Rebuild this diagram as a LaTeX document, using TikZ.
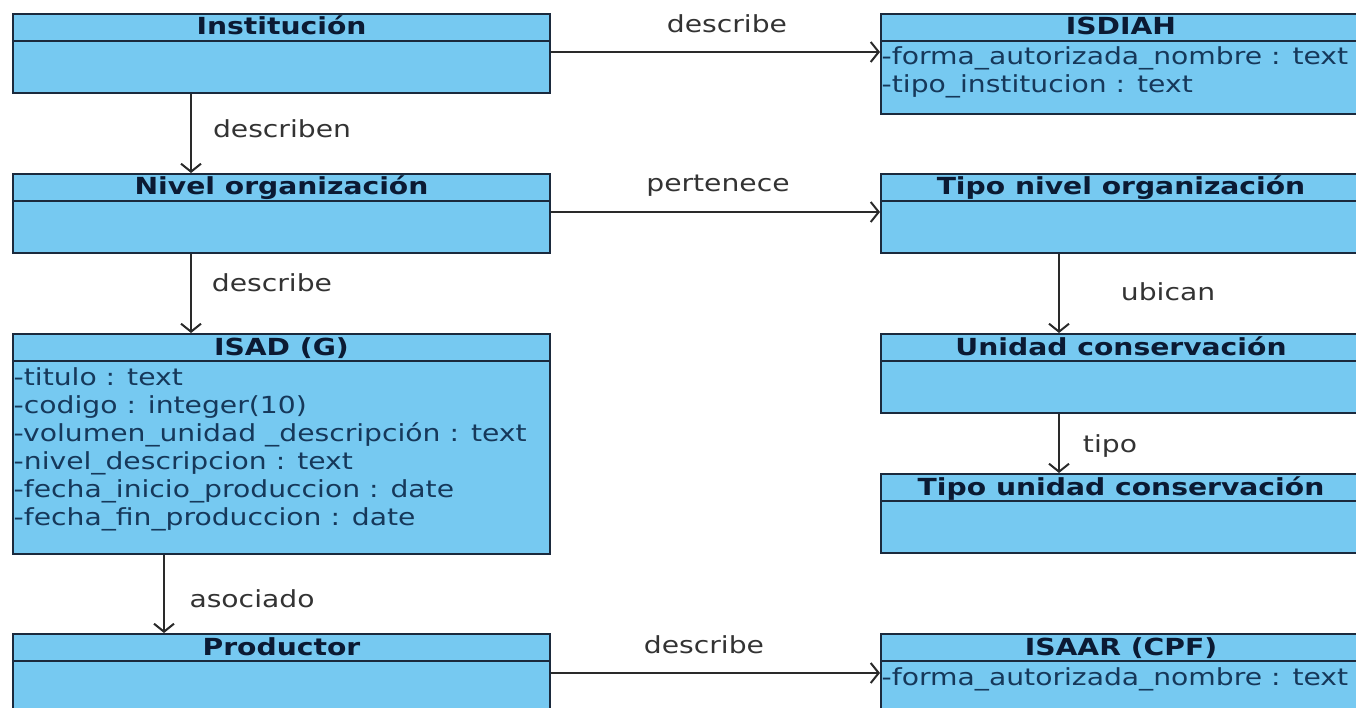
\documentclass[tikz,border=0pt]{standalone}
\usepackage{fontspec}
\setmainfont{DejaVu Sans}[FakeStretch=1.2]
\usetikzlibrary{arrows.meta,calc}

\definecolor{boxfill}{HTML}{76C9F1}
\definecolor{boxline}{HTML}{1B2A3D}
\definecolor{titletext}{HTML}{0B1A33}
\definecolor{attrtext}{HTML}{16385A}
\definecolor{wire}{HTML}{2A2A2A}
\definecolor{labeltext}{HTML}{333333}

\newcommand{\umlsize}{\fontsize{23.5}{28}\selectfont}

\tikzset{
  umlclass/.style 2 args={rectangle, draw=boxline, fill=boxfill, line width=2pt,
    anchor=north west, inner sep=0pt, minimum width=#1pt, minimum height=#2pt},
  classtitle/.style={anchor=base, inner sep=0pt, text=titletext, font=\umlsize\bfseries},
  attr/.style={anchor=base west, inner sep=0pt, text=attrtext, font=\umlsize},
  divider/.style={draw=boxline, line width=2pt},
  assoc/.style={draw=wire, line width=2pt, -{Straight Barb[length=8pt,width=20pt]}},
  lbl/.style={anchor=base, inner sep=0pt, text=labeltext, font=\umlsize},
}

\begin{document}
\begin{tikzpicture}[x=1pt,y=-1pt]
  \useasboundingbox (0,0) rectangle (1356,708);
  \clip (0,0) rectangle (1356,708);

  % class boxes, left column
  \node[umlclass={537}{79}]  (inst) at (12,13) {};
  \node[umlclass={537}{79}]  (niv)  at (12,173) {};
  \node[umlclass={537}{220}] (isad) at (12,333) {};
  \node[umlclass={537}{80}]  (prod) at (12,633) {};

  % class boxes, right column
  \node[umlclass={480}{100}] (isdiah) at (880,13) {};
  \node[umlclass={480}{79}]  (tno)    at (880,173) {};
  \node[umlclass={480}{79}]  (uc)     at (880,333) {};
  \node[umlclass={480}{79}]  (tuc)    at (880,473) {};
  \node[umlclass={480}{80}]  (isaar)  at (880,633) {};

  % header dividers
  \foreach \b in {inst,niv,isad,prod,isdiah,tno,uc,tuc,isaar}
    \draw[divider] ($(\b.north west)+(0,28)$) -- ($(\b.north east)+(0,28)$);

  % class names
  \node[classtitle] (instT)   at ($(inst.north)+(0,22)$)   {Institución};
  \node[classtitle] (nivT)    at ($(niv.north)+(0,22)$)    {Nivel organización};
  \node[classtitle] (isadT)   at ($(isad.north)+(0,22)$)   {ISAD (G)};
  \node[classtitle] (prodT)   at ($(prod.north)+(0,22)$)   {Productor};
  \node[classtitle] (isdiahT) at ($(isdiah.north)+(0,22)$) {ISDIAH};
  \node[classtitle] (tnoT)    at ($(tno.north)+(0,22)$)    {Tipo nivel organización};
  \node[classtitle] (ucT)     at ($(uc.north)+(0,22)$)     {Unidad conservación};
  \node[classtitle] (tucT)    at ($(tuc.north)+(0,22)$)    {Tipo unidad conservación};
  \node[classtitle] (isaarT)  at ($(isaar.north)+(0,22)$)  {ISAAR (CPF)};

  % attributes
  \node[attr] (a1) at ($(isdiah.north west)+(1.5,52)$) {-forma\_autorizada\_nombre : text};
  \node[attr] (a2) at ($(isdiah.north west)+(1.5,80)$) {-tipo\_institucion : text};

  \node[attr] (b1) at ($(isad.north west)+(1.5,52)$)  {-titulo : text};
  \node[attr] (b2) at ($(isad.north west)+(1.5,80)$)  {-codigo : integer(10)};
  \node[attr] (b3) at ($(isad.north west)+(1.5,108)$) {-volumen\_unidad \_descripción : text};
  \node[attr] (b4) at ($(isad.north west)+(1.5,136)$) {-nivel\_descripcion : text};
  \node[attr] (b5) at ($(isad.north west)+(1.5,164)$) {-fecha\_inicio\_produccion : date};
  \node[attr] (b6) at ($(isad.north west)+(1.5,192)$) {-fecha\_fin\_produccion : date};

  \node[attr] (c1) at ($(isaar.north west)+(1.5,52)$) {-forma\_autorizada\_nombre : text};

  % connector guides
  \coordinate (colA) at (191,0);
  \coordinate (colB) at (164,0);
  \coordinate (colC) at (1059,0);
  \coordinate (rowA) at (0,52);
  \coordinate (rowB) at (0,212);
  \coordinate (rowC) at (0,673);

  % associations
  \draw[assoc] (inst.east |- rowA) -- (isdiah.west |- rowA);
  \draw[assoc] (niv.east |- rowB)  -- (tno.west |- rowB);
  \draw[assoc] (prod.east |- rowC) -- (isaar.west |- rowC);
  \draw[assoc] (inst.south -| colA) -- (niv.north -| colA);
  \draw[assoc] (niv.south -| colA)  -- (isad.north -| colA);
  \draw[assoc] (isad.south -| colB) -- (prod.north -| colB);
  \draw[assoc] (tno.south -| colC)  -- (uc.north -| colC);
  \draw[assoc] (uc.south -| colC)   -- (tuc.north -| colC);

  % association names
  \node[lbl] (l1) at (727,33)   {describe};
  \node[lbl] (l2) at (282,138)  {describen};
  \node[lbl] (l3) at (718,192)  {pertenece};
  \node[lbl] (l4) at (272,292)  {describe};
  \node[lbl] (l5) at (1168,301) {ubican};
  \node[lbl] (l6) at (1110,452) {tipo};
  \node[lbl] (l7) at (252,607)  {asociado};
  \node[lbl] (l8) at (704,653)  {describe};
\end{tikzpicture}
\end{document}
